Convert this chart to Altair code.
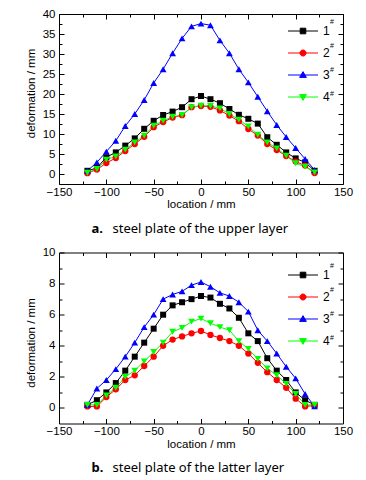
import altair as alt
import pandas as pd

locations = [-120, -110, -100, -90, -80, -70, -60, -50, -40, -30, -20, -10, 0,
             10, 20, 30, 40, 50, 60, 70, 80, 90, 100, 110, 120]

upper_1 = [0.8, 1.5, 4.2, 5.4, 7.1, 8.9, 11.3, 13.3, 14.75, 15.6, 16.7, 18.7, 19.5,
           18.7, 17.7, 16.25, 14.8, 13.8, 12.6, 9.2, 7.3, 5.4, 3.9, 2.9, 0.8]
upper_2 = [0.2, 1.1, 2.75, 4.0, 5.75, 7.5, 9.3, 11.7, 13.0, 14.1, 14.7, 16.7, 17.0,
           16.8, 15.9, 14.6, 13.2, 11.25, 9.6, 7.5, 6.0, 4.5, 3.1, 2.1, 0.25]
upper_3 = [0.8, 2.9, 5.6, 8.3, 12.0, 15.0, 18.5, 22.75, 26.2, 30.2, 33.9, 36.9, 37.6,
           37.2, 33.4, 30.2, 26.2, 22.9, 19.3, 15.7, 12.25, 9.25, 6.5, 3.75, 1.0]
upper_4 = [0.3, 1.25, 3.6, 4.4, 6.1, 7.9, 9.6, 12.1, 13.3, 14.3, 14.75, 16.7, 17.1,
           17.0, 16.4, 15.0, 13.6, 11.9, 9.8, 7.9, 6.4, 4.6, 2.7, 1.8, 0.4]

lower_1 = [0.2, 0.5, 1.0, 1.6, 2.4, 3.3, 4.2, 5.1, 6.0, 6.6, 6.8, 7.0, 7.2,
           7.1, 6.7, 6.4, 5.8, 4.8, 4.3, 3.2, 2.4, 1.8, 1.0, 0.5, 0.2]
lower_2 = [0.1, 0.1, 0.7, 1.2, 1.8, 2.1, 2.7, 3.3, 4.0, 4.4, 4.6, 4.8, 4.95,
           4.7, 4.5, 4.3, 4.0, 3.5, 2.9, 2.3, 1.8, 1.3, 0.6, 0.1, 0.15]
lower_3 = [0.2, 1.25, 1.8, 2.5, 3.3, 4.2, 5.2, 6.0, 7.0, 7.3, 7.5, 7.9, 8.1,
           7.8, 7.4, 7.2, 6.8, 6.2, 5.0, 4.3, 3.5, 2.65, 1.9, 0.9, 0.1]
lower_4 = [0.2, 0.2, 0.8, 1.3, 2.0, 2.4, 3.0, 3.6, 4.2, 4.9, 5.15, 5.55, 5.75,
           5.45, 5.2, 5.0, 4.3, 3.8, 3.15, 2.55, 2.1, 1.55, 0.9, 0.2, 0.2]

series_names = ["1", "2", "3", "4"]
sup_names = ["1#", "2#", "3#", "4#"]
colors = ["#000000", "#ff0000", "#0000ff", "#00ff00"]
marker_shapes = ["square", "circle", "triangle-up", "triangle-down"]
marker_sizes = [36, 40, 46, 46]
legend_paths = [
    "M-1.875,0H1.875M-0.35,-0.35H0.35V0.35H-0.35Z",
    "M-1.875,0H1.875M0.38,0A0.38,0.38 0 1,1 -0.38,0A0.38,0.38 0 1,1 0.38,0Z",
    "M-1.875,0H1.875M0,-0.42L0.42,0.3L-0.42,0.3Z",
    "M-1.875,0H1.875M0,0.42L0.42,-0.3L-0.42,-0.3Z",
]

x_major = [-150, -100, -50, 0, 50, 100, 150]
x_minor = [-125, -75, -25, 25, 75, 125]
upper_y_major = [0, 5, 10, 15, 20, 25, 30, 35, 40]
upper_y_minor = [2.5, 7.5, 12.5, 17.5, 22.5, 27.5, 32.5, 37.5]
lower_y_major = [0, 2, 4, 6, 8, 10]
lower_y_minor = [1, 3, 5, 7, 9]

AX_FONT = "Liberation Sans"
CAP_FONT = "Noto Sans"
LEG_X = 235.5
ROW_PAD = 7


def major_axis(orient, values, title=None, label=True, title_y=None):
    kw = dict(orient=orient, values=values, offset=-5, tickSize=5, domain=False,
              grid=False, tickColor="black", tickWidth=1)
    if label:
        kw.update(labels=True, labelFont=AX_FONT, labelFontSize=11.5, labelColor="black",
                  labelFlush=False, labelOverlap=False, format="d",
                  labelPadding=2 if orient == "bottom" else 4,
                  title=title, titleFont=AX_FONT, titleFontSize=11.5,
                  titleFontWeight="normal", titleColor="black",
                  titlePadding=1 if orient == "bottom" else 6)
        if title_y is not None:
            kw["titleY"] = title_y
    else:
        kw.update(labels=False, title=None)
    return alt.Axis(**kw)


def minor_axis(orient, values, title=None, title_x=0, title_y=0, bold=False):
    kw = dict(orient=orient, values=values, offset=-3, tickSize=3, domain=False,
              grid=False, labels=False, tickColor="black", tickWidth=1)
    if title is None:
        kw["title"] = None
    else:
        kw.update(title=title, titleX=title_x, titleY=title_y, titleAlign="left",
                  titleAngle=0, titleBaseline="alphabetic", titleFont=CAP_FONT,
                  titleFontSize=13, titleColor="black",
                  titleFontWeight="bold" if bold else "normal")
    return alt.Axis(**kw)


def panel(series_lists, ydom, ymaj, ymin, letter, caption, legend_y, title_y, h):
    rows = []
    for name, sup, vals in zip(series_names, sup_names, series_lists):
        for x, v in zip(locations, vals):
            rows.append({"location": x, "deformation": v, "series": name, "sup": sup})
    df = pd.DataFrame(rows)
    xs = alt.Scale(domain=[-150, 150], nice=False, zero=False)
    ys = alt.Scale(domain=ydom, nice=False, zero=False)
    # data-driven domain (sorted "1".."4") keeps this hidden legend apart from the shown one
    color = alt.Color("series:N", scale=alt.Scale(range=colors), legend=None)
    base = alt.Chart(df)

    cap_base_y = h + 48  # caption baseline below plot top
    lines = base.mark_line(strokeWidth=1).encode(
        x=alt.X("location:Q", scale=xs, axis=major_axis("bottom", x_major, "location / mm")),
        y=alt.Y("deformation:Q", scale=ys,
                axis=major_axis("left", ymaj, "deformation / mm", title_y=title_y)),
        color=color,
    )
    x_axes = [
        minor_axis("bottom", x_minor, caption, title_x=53, title_y=cap_base_y - (h - 3)),
        major_axis("top", x_major, label=False),
        minor_axis("top", x_minor, letter, title_x=32, title_y=cap_base_y - 3, bold=True),
        None,
    ]
    y_axes = [minor_axis("left", ymin), major_axis("right", ymaj, label=False),
              minor_axis("right", ymin), None]
    layers = [lines]
    for i, name in enumerate(series_names):
        layers.append(
            base.transform_filter(alt.datum.series == name)
            .mark_point(shape=marker_shapes[i], filled=True, size=marker_sizes[i], opacity=1)
            .encode(
                x=alt.X("location:Q", scale=xs, axis=x_axes[i]),
                y=alt.Y("deformation:Q", scale=ys, axis=y_axes[i]),
                color=color,
            )
        )

    leg = dict(orient="none", legendX=LEG_X, legendY=legend_y, padding=0,
               rowPadding=ROW_PAD,
               labelOffset=11.5, labelFont=AX_FONT, labelFontSize=12, labelColor="black",
               symbolSize=256, symbolStrokeWidth=1, title=None)
    legend_layer = base.transform_filter("false").mark_point(
        filled=True, size=256, strokeWidth=1, opacity=1
    ).encode(
        fill=alt.Fill("series:N", scale=alt.Scale(domain=series_names, range=colors),
                      legend=alt.Legend(**leg)),
        stroke=alt.Stroke("series:N", scale=alt.Scale(domain=series_names, range=colors),
                          legend=alt.Legend(**leg)),
        shape=alt.Shape("series:N", scale=alt.Scale(domain=series_names, range=legend_paths),
                        legend=alt.Legend(**leg)),
    )
    sup_leg = dict(orient="none", legendX=LEG_X + 7, legendY=legend_y - 9.5, padding=0,
                   rowPadding=ROW_PAD,
                   labelOffset=11.5, labelFont=AX_FONT, labelFontSize=7,
                   labelColor="black", labelExpr="'#'", symbolSize=256, symbolOpacity=0,
                   symbolStrokeWidth=1, title=None)
    sup_layer = base.transform_filter("false").mark_point(size=256).encode(
        strokeDash=alt.StrokeDash(
            "sup:N", scale=alt.Scale(domain=sup_names, range=[[1, 0], [1, 0], [1, 0], [1, 0]]),
            legend=alt.Legend(**sup_leg)),
    )
    layers += [legend_layer, sup_layer]

    return alt.layer(*layers).resolve_axis(x="independent", y="independent").properties(
        width=284, height=h,
    )


top = panel([upper_1, upper_2, upper_3, upper_4], [-2.5, 40], upper_y_major, upper_y_minor,
            "a.", "steel plate of the upper layer", 8.5, 79, 170)
bottom = panel([lower_1, lower_2, lower_3, lower_4], [-1, 10], lower_y_major, lower_y_minor,
               "b.", "steel plate of the latter layer", 14, 90, 171)

chart = alt.vconcat(top, bottom, spacing=9.5).resolve_scale(
    fill="independent", stroke="independent", shape="independent",
    strokeDash="independent", color="independent",
).configure_view(stroke="black", strokeWidth=1).properties(
    padding={"left": 16, "top": -1, "right": 0, "bottom": 0}, background="white"
)

chart.save("out.html", embed_options={"renderer": "svg", "actions": False})
